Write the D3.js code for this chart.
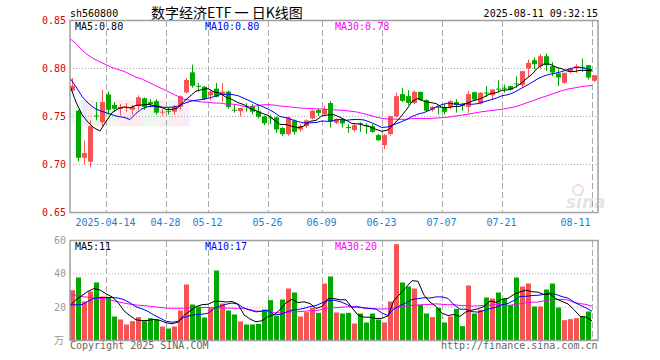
<!DOCTYPE html>
<html><head><meta charset="utf-8">
<script src="https://cdn.jsdelivr.net/npm/d3@7/dist/d3.min.js"></script>
<style>
html,body{margin:0;padding:0;background:#fff;}
svg{display:block;}
text{font-family:"DejaVu Sans Mono",monospace;font-size:10px;}
</style></head><body>
<svg id="c" width="660" height="360"></svg>
<script>
// ---------- data ----------
const open  = [.777,.756,.707,.703,.751,.744,.773,.762,.758,.759,.757,.761,.769,.765,.766,.754,.756,.755,.760,.775,
               .796,.782,.781,.772,.779,.773,.776,.757,.7555,.761,.761,.7555,.750,.749,.749,.738,.7316,.7455,.7365,.740,
               .748,.7566,.7524,.764,.7434,.747,.739,.7358,.743,.741,.740,.7306,.7201,.7316,.7503,.7733,.7712,.764,.7757,.767,
               .757,.760,.7594,.760,.765,.762,.760,.7753,.7635,.775,.7722,.779,.780,.7816,.7845,.7826,.800,.8087,.8024,.8128,
               .8024,.7948,.7851,.7965,.8015,.8018,.8035,.7872];
const high  = [.790,.757,.725,.746,.765,.778,.776,.765,.763,.764,.762,.772,.770,.768,.768,.758,.759,.762,.772,.790,
               .804,.785,.782,.778,.785,.785,.777,.762,.759,.764,.763,.762,.751,.752,.750,.739,.750,.747,.742,.747,
               .757,.758,.761,.766,.748,.748,.742,.742,.744,.743,.742,.732,.732,.751,.7747,.780,.7774,.777,.776,.768,
               .761,.761,.763,.767,.768,.764,.7767,.776,.7755,.7816,.778,.7878,.7833,.782,.792,.7975,.8094,.8115,.815,.8156,
               .8066,.800,.7955,.801,.8045,.8104,.8035,.793];
const low   = [.776,.703,.700,.697,.746,.740,.752,.755,.751,.755,.752,.757,.757,.760,.752,.751,.752,.752,.757,.774,
               .780,.776,.767,.767,.770,.765,.758,.754,.750,.755,.752,.748,.741,.742,.733,.7295,.730,.731,.734,.738,
               .747,.7505,.751,.7385,.742,.7385,.733,.734,.734,.732,.733,.7245,.716,.730,.749,.765,.762,.763,.766,.755,
               .755,.752,.752,.758,.754,.756,.7538,.767,.7625,.770,.767,.775,.775,.777,.780,.780,.7913,.799,.800,.7975,
               .792,.7816,.784,.795,.7955,.7965,.7885,.786];
const close = [.782,.707,.712,.740,.750,.765,.757,.758,.760,.760,.760,.770,.760,.763,.754,.755,.755,.760,.771,.788,
               .782,.781,.768,.776,.7705,.776,.760,.7565,.759,.760,.755,.7497,.743,.748,.7365,.7316,.749,.734,.740,.746,
               .756,.7538,.758,.7444,.7473,.7427,.738,.741,.7427,.740,.734,.7253,.7306,.7503,.7712,.7663,.7642,.7757,.767,.756,
               .760,.759,.7549,.766,.762,.761,.7733,.7677,.7747,.7747,.7781,.7788,.7795,.778,.7844,.7972,.8059,.8045,.8128,.8035,
               .7958,.7906,.7955,.800,.8024,.8017,.7906,.793];
const volume = [30.2,37.8,23.4,29.4,34.8,26.4,26,14.4,12.6,9.6,11.6,14,11.6,13.4,12.8,8.4,7.2,8.4,18,33.6,
                21.6,20.4,13.8,19.4,42,22.2,18,15.6,11.4,9.6,9.6,10,18.6,24.2,14.8,24.6,31.2,28.8,14.4,17,
                19.6,16.6,34.2,38.4,16.8,16.2,16.6,10.2,16.2,10.8,16.2,12.6,10.8,23.4,57.8,34.8,32.4,31.2,21.4,16.2,
                14,19.6,10.8,14.4,19,8.6,33,16.2,18.4,25.8,25.2,28.8,25.2,21.4,37.8,32.4,34.2,20.4,20.4,30.6,
                34.2,19.8,12.2,12.8,13.4,14.4,17.4,0.6];
const priceMA5Head  = [.782,.765,.752,.744];
const priceMA10Head = [.790,.781,.771,.764,.759,.756,.754,.752,.750];
const priceMA30Head = [.831,.826,.819,.814,.810,.807,.804,.801,.799,.797,.794,.791,.789,.786,.783,.780,.777,.774,.771,.768,
                       .767,.766,.765,.765,.764,.764,.763,.763,.762];
const volMA5Head  = [21,24.5,27,29.5];
const volMA10Head = [21.4,21.4,21.6,23.5,25.3,25.8,25.8,25.8,25.5];
const volMA30Head = [28,27,26.3,26,25.6,25.2,25,24,23.2,22.5,21.8,21.3,21,20.7,20.3,19.8,19.5,19.3,19.3,19.4,
                     19.6,19.8,19.8,19.8,19.7,19.6,19.5,19.4,19.3];
// faint ghost stripes seen in the left part of the price panel (colour per day)
const ghostColors = ["#bbb","#bbb","#66f","#f66","#6c6","#f66","#6c6","#6c6","#f66","#f66",
                     "#f66","#f66","#6c6","#6c6","#6c6","#f66","#6c6","#f66","#f66","#c6f"];
const ghostRange = [0.740, 0.767];
const tickIndex  = [6,16,23,33,42,52,62,72,87];
const tickLabels = ["2025-04-14","04-28","05-12","05-26","06-09","06-23","07-07","07-21","08-11"];
const priceTicks = [0.85,0.80,0.75,0.70,0.65];
const volTicks   = [60,40,20];

// ---------- drawing ----------
const RED = "#f65454", GREEN = "#00a800";
const svg = d3.select("#c");
const L = 70, R = 598;
const x = d3.scaleLinear().domain([0, 87]).range([72.5, 594.5]);
const yP = d3.scaleLinear().domain([0.65, 0.85]).range([212.5, 20.5]);
const yV = d3.scaleLinear().domain([0, 60]).range([340.5, 240.5]);
const n = close.length;

function ma(vals, k, head){
  return vals.map((v,i)=> i < k-1 ? head[i] : d3.mean(vals.slice(i-k+1, i+1)));
}

// header
svg.append("text").attr("x",70).attr("y",17).attr("fill","#000").text("sh560800");
svg.append("text").attr("x",151).attr("y",18)
  .style("font-family",'"Noto Sans CJK SC",sans-serif').style("font-size","14px").attr("fill","#000")
  .text("数字经济ETF 一 日K线图");
svg.append("text").attr("x",598).attr("y",17).attr("text-anchor","end").attr("fill","#000").text("2025-08-11 09:32:15");

const defs = svg.append("defs");
defs.append("clipPath").attr("id","cp").append("rect").attr("x",L).attr("y",20).attr("width",R-L).attr("height",193);
defs.append("clipPath").attr("id","cv").append("rect").attr("x",L).attr("y",240).attr("width",R-L).attr("height",101);
const lg = defs.append("linearGradient").attr("id","gf").attr("x1",0).attr("x2",0).attr("y1",0).attr("y2",1);
lg.append("stop").attr("offset","0%").attr("stop-color","#fff").attr("stop-opacity",0);
lg.append("stop").attr("offset","50%").attr("stop-color","#fff").attr("stop-opacity",0.35);
lg.append("stop").attr("offset","100%").attr("stop-color","#fff").attr("stop-opacity",0);

// grid
const grid = svg.append("g");
[0.80,0.75,0.70].forEach(v=>{
  grid.append("line").attr("x1",L).attr("x2",R).attr("y1",yP(v)).attr("y2",yP(v))
    .attr("stroke","#aaa").attr("stroke-dasharray","1,2");
});
[40,20].forEach(v=>{
  grid.append("line").attr("x1",L).attr("x2",R).attr("y1",yV(v)).attr("y2",yV(v))
    .attr("stroke","#aaa").attr("stroke-dasharray","1,2");
});
tickIndex.forEach(i=>{
  const gx = x(i)-2;
  grid.append("line").attr("x1",gx).attr("x2",gx).attr("y1",21).attr("y2",212)
    .attr("stroke","#aaa").attr("stroke-dasharray","6,3");
  grid.append("line").attr("x1",gx).attr("x2",gx).attr("y1",241).attr("y2",340)
    .attr("stroke","#aaa").attr("stroke-dasharray","6,3");
});

// ghost stripes
const gg = svg.append("g").attr("clip-path","url(#cp)");
ghostColors.forEach((c,i)=>{
  gg.append("rect").attr("x",x(i)-3).attr("width",6)
    .attr("y",yP(ghostRange[1])).attr("height",yP(ghostRange[0])-yP(ghostRange[1]))
    .attr("fill",c).attr("opacity",0.13);
});

// watermark
const wm = svg.append("g").attr("opacity",0.22);
wm.append("circle").attr("cx",578).attr("cy",190).attr("r",5).attr("fill","none").attr("stroke","#e55").attr("stroke-width",2);
wm.append("text").attr("x",566).attr("y",208).style("font-family","'DejaVu Sans',sans-serif")
  .style("font-size","17px").style("font-style","italic").style("font-weight","bold").attr("fill","#888").text("sina");

// candles
const cg = svg.append("g").attr("clip-path","url(#cp)");
d3.range(n).forEach(i=>{
  const up = close[i] >= open[i];
  const col = up ? RED : GREEN;
  const cx = x(i);
  cg.append("rect").attr("x",cx-0.5).attr("width",1)
    .attr("y",yP(high[i])).attr("height",Math.max(1,yP(low[i])-yP(high[i]))).attr("fill",col);
  const top = yP(Math.max(open[i],close[i])), bot = yP(Math.min(open[i],close[i]));
  cg.append("rect").attr("x",cx-2.5).attr("width",5)
    .attr("y",top).attr("height",Math.max(1,bot-top)).attr("fill",col);
});

// price MAs
const pm5 = ma(close,5,priceMA5Head), pm10 = ma(close,10,priceMA10Head), pm30 = ma(close,30,priceMA30Head);
const lineP = d3.line().x((d,i)=>x(i)-2.5).y(d=>yP(d));
[[pm30,"#ff00ff"],[pm10,"#0000ff"],[pm5,"#000"]].forEach(([s,c])=>{
  cg.append("path").attr("d",lineP(s)).attr("fill","none").attr("stroke",c).attr("stroke-width",1);
});

// volume bars
const vg = svg.append("g").attr("clip-path","url(#cv)");
d3.range(n).forEach(i=>{
  const up = close[i] >= open[i];
  vg.append("rect").attr("x",x(i)-2.5).attr("width",5)
    .attr("y",yV(volume[i])).attr("height",yV(0)-yV(volume[i])).attr("fill",up?RED:GREEN);
});
const vm5 = ma(volume,5,volMA5Head), vm10 = ma(volume,10,volMA10Head), vm30 = ma(volume,30,volMA30Head);
const lineV = d3.line().x((d,i)=>x(i)-2.5).y(d=>yV(d));
[[vm30,"#ff00ff"],[vm10,"#0000ff"],[vm5,"#000"]].forEach(([s,c])=>{
  vg.append("path").attr("d",lineV(s)).attr("fill","none").attr("stroke",c).attr("stroke-width",1);
});

// frames
svg.append("rect").attr("x",L).attr("y",20.5).attr("width",R-L).attr("height",192)
  .attr("fill","none").attr("stroke","#a0a0a0").attr("stroke-width",1.5);
svg.append("rect").attr("x",L).attr("y",240.5).attr("width",R-L).attr("height",100)
  .attr("fill","none").attr("stroke","#a0a0a0").attr("stroke-width",1.5);

// axis labels
priceTicks.forEach(v=>{
  svg.append("text").attr("x",66).attr("y",yP(v)+3.5).attr("text-anchor","end").attr("fill","#e00000").text(v.toFixed(2));
});
volTicks.forEach(v=>{
  svg.append("text").attr("x",66).attr("y",yV(v)+3.5).attr("text-anchor","end").attr("fill","#999").text(v);
});
svg.append("text").attr("x",64).attr("y",344).attr("text-anchor","end").attr("fill","#999")
  .style("font-family",'"Noto Sans CJK SC",sans-serif').style("font-size","10px").text("万");
tickIndex.forEach((i,k)=>{
  let cx = x(i)-3, anchor = "middle";
  if (k === tickIndex.length-1){ cx = 590.5; anchor = "end"; }
  svg.append("text").attr("x",cx).attr("y",225.5).attr("text-anchor",anchor).attr("fill","#1a80d0").text(tickLabels[k]);
});

// legends
const last = n-1;
const f2 = v=>v.toFixed(2);
svg.append("text").attr("x",75).attr("y",30).attr("fill","#000").text("MA5:"+f2(pm5[last]));
svg.append("text").attr("x",205).attr("y",30).attr("fill","#0000ff").text("MA10:"+f2(pm10[last]));
svg.append("text").attr("x",335).attr("y",30).attr("fill","#ff00ff").text("MA30:"+f2(pm30[last]));
svg.append("text").attr("x",75).attr("y",250).attr("fill","#000").text("MA5:"+Math.floor(vm5[last]));
svg.append("text").attr("x",205).attr("y",250).attr("fill","#0000ff").text("MA10:"+Math.floor(vm10[last]));
svg.append("text").attr("x",335).attr("y",250).attr("fill","#ff00ff").text("MA30:"+Math.floor(vm30[last]));

// footer
svg.append("text").attr("x",70).attr("y",349).attr("fill","#666").text("Copyright 2025 SINA.COM");
svg.append("text").attr("x",597.5).attr("y",349).attr("text-anchor","end").attr("fill","#666").text("http://finance.sina.com.cn");
</script>
</body></html>
